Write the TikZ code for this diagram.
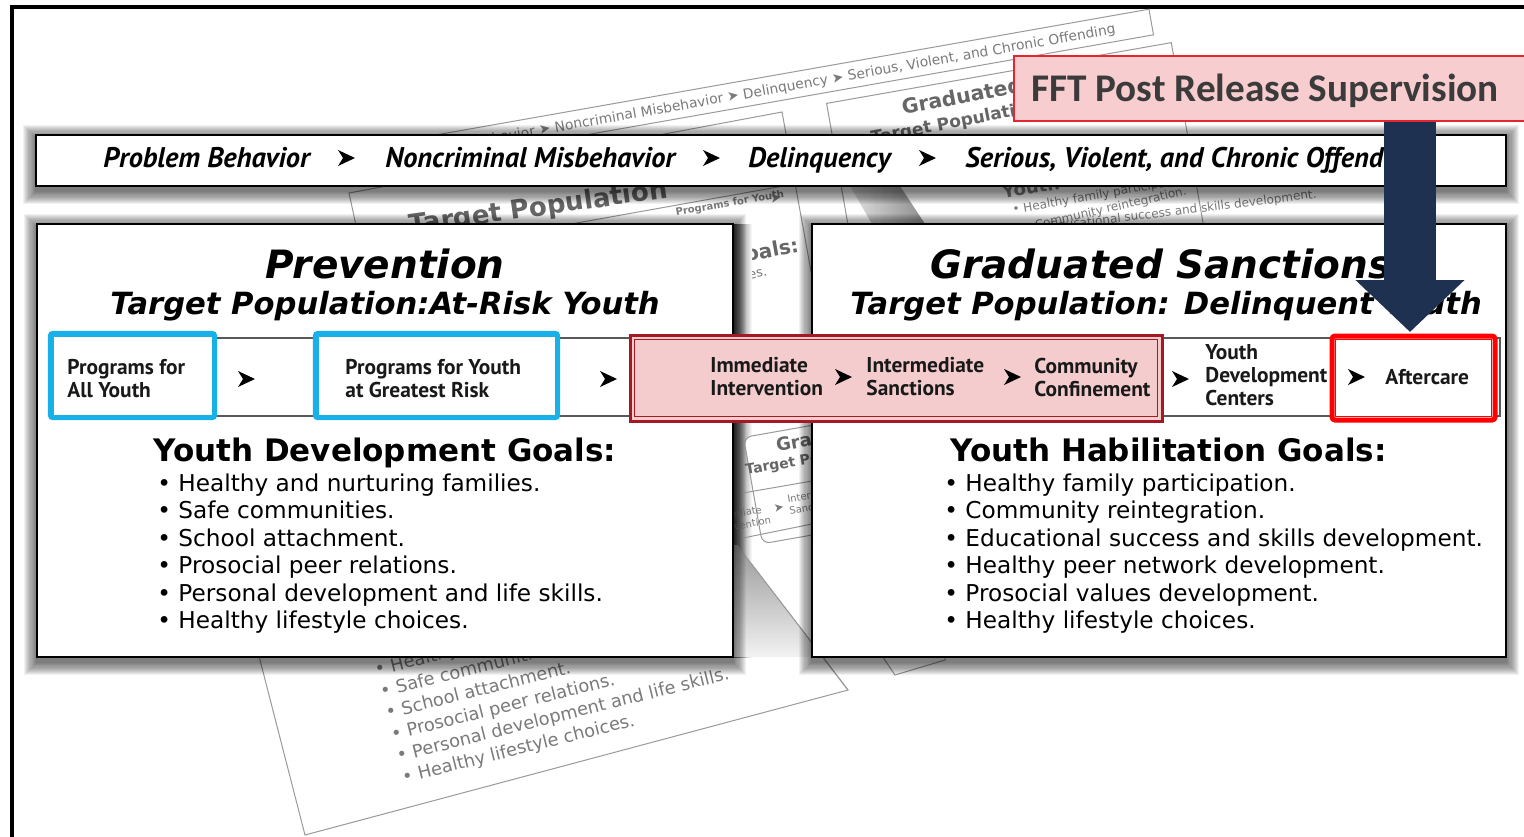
\documentclass[tikz,border=0pt]{standalone}
\usepackage{fontspec}
\setmainfont{DejaVu Sans}
\newfontfamily\ptsans{PT Sans}
\newfontfamily\carlito{Carlito}
\usetikzlibrary{arrows.meta}
\definecolor{navy}{HTML}{1F3150}
\definecolor{cyanb}{HTML}{18B0E8}
\definecolor{dred}{HTML}{A31A22}
\definecolor{pinkf}{HTML}{F4CCCD}
\definecolor{fftfill}{HTML}{F8CDCF}
\definecolor{fftline}{HTML}{E52530}
\definecolor{brightred}{HTML}{FF0000}
\definecolor{ghostt}{HTML}{7A7A7A}
\definecolor{ghostl}{HTML}{9A9A9A}
\definecolor{ffttext}{HTML}{3B3B3B}
\pgfdeclareradialshading{bgshade}{\pgfpoint{0bp}{0bp}}{color(0bp)=(white); color(34bp)=(white); color(62bp)=(black!11); color(80bp)=(black!11)}
\def\pxu{0.5pt}
\newcommand\gch{{\upshape\mdseries ➤}}
\newcommand\softshadow[4]{%
  \foreach \k in {1,...,12}{%
    \fill[black,opacity=0.055] ({#1-1.1*\k},{#2-1.1*\k+3}) rectangle ({#3+1.1*\k},{#4+1.1*\k+5});}}
\tikzset{
  chev/.pic={\fill (-8,-8) -- (9,0) -- (-8,8) -- (-3,0) -- cycle;},
  panel/.style={draw=black, line width=1.4pt, fill=white, inner sep=0},
  ghostsheet/.style={draw=ghostl, line width=0.5pt, fill=white, inner sep=0},
  ghostline/.style={draw=ghostl, line width=0.5pt},
  gtxt/.style={text=ghostt, inner sep=0},
  gbold/.style={text=black!60, inner sep=0},
  bartext/.style={font=\ptsans\bfseries\itshape\fontsize{14.2pt}{16pt}\selectfont, anchor=base west, inner sep=0},
  boxtext/.style={font=\ptsans\bfseries\fontsize{10.7pt}{11.5pt}\selectfont, align=left, anchor=west, inner sep=0, text=black!90},
  ptitle/.style={font=\bfseries\itshape\fontsize{19.5pt}{22pt}\selectfont, inner sep=0},
  psub/.style={font=\bfseries\itshape\fontsize{15.3pt}{18pt}\selectfont, inner sep=0},
  goalhead/.style={font=\bfseries\fontsize{15.5pt}{18pt}\selectfont, anchor=base west, inner sep=0},
  goalitem/.style={font=\fontsize{11.6pt}{13pt}\selectfont, anchor=base west, inner sep=0},
  bluebox/.style={draw=cyanb, line width=2.2pt, rounded corners=3*\pxu, fill=white, inner sep=0},
  darkbox/.style={draw=dred, line width=1.5pt, fill=pinkf, inner sep=0},
  aftbox/.style={draw=brightred, line width=2.5pt, rounded corners=3*\pxu, fill=white, inner sep=0},
  bandline/.style={draw=black!65, line width=0.8pt},
  bigarrow/.style={draw=navy, line width=26pt, -{Triangle[width=53pt,length=26pt]}}
}
\begin{document}
\begin{tikzpicture}[x=0.5pt,y=-0.5pt]
\useasboundingbox (0,0) rectangle (1524,836);
\clip (0,0) rectangle (1524,836);
% background
\fill[white] (0,0) rectangle (1524,836);
\shade[shading=bgshade] (-120,-60) rectangle (1640,930);
\fill[white] (0,0) rectangle (12,836);
\fill[white] (0,0) rectangle (1524,7);
\draw[line width=2pt] (12,840) -- (12,7) -- (1530,7);

% ---- ghost: lower sheet
\draw[ghostsheet] (224,520) -- (305,835) -- (848,690) -- (700,497) -- cycle;
\foreach \t [count=\i from 0] in {Healthy and nurturing families., Safe communities., School attachment., Prosocial peer relations., Personal development and life skills., Healthy lifestyle choices.}
  \node[gtxt, font=\fontsize{8.9pt}{10pt}\selectfont, rotate=14, anchor=base west] (lb\i) at ({376+5.5*\i},{676+21.5*\i}) {• \t};

% ---- ghost: left panel copy
\draw[ghostsheet] (349,193) -- (782,112) -- (840,430) -- (420,520) -- cycle;
\node[gbold, font=\bfseries\fontsize{13pt}{15pt}\selectfont, rotate=8, anchor=base west] (g3t) at (410,234) {Target Population};
\node[gtxt, font=\bfseries\fontsize{5pt}{6pt}\selectfont, rotate=10, anchor=base west] (g3p) at (676,216) {Programs for Youth};
\draw[ghostline] (560,226) -- (800,183);
\node[gtxt, font=\fontsize{7pt}{8pt}\selectfont, rotate=10] (g3c) at (776,198) {➤};
\node[gbold, font=\bfseries\fontsize{10pt}{12pt}\selectfont, rotate=10, anchor=base east] (g3g) at (800,252) {Youth Development Goals:};
\node[gtxt, font=\fontsize{6.5pt}{8pt}\selectfont, rotate=10, anchor=base east] (g3h) at (768,276) {• Healthy lifestyle choices.};

% ---- ghost: graduated panel copy
\node[ghostsheet, rotate=10, anchor=north west, minimum width=350*\pxu, minimum height=220*\pxu] (g2) at (826,103) {};
\shade[left color=black!12, right color=black!45] (850,186) -- (900,186) -- (925,224) -- (872,224) -- cycle;
\node[gbold, font=\bfseries\fontsize{10.2pt}{12pt}\selectfont, rotate=11, anchor=base west] (g2a) at (903,115) {Graduated Sanctions};
\node[gbold, font=\bfseries\fontsize{8.5pt}{10pt}\selectfont, rotate=11, anchor=base west] (g2b) at (872,144) {Target Population: Delinquent Youth};
\node[gtxt, font=\bfseries\fontsize{9pt}{10pt}\selectfont, rotate=10, anchor=base west] (g2c) at (1003,199) {Youth Habilitation Goals:};
\node[gtxt, font=\fontsize{6pt}{7pt}\selectfont, rotate=10, anchor=base west] (g2d) at (1013,214) {• Healthy family participation.};
\node[gtxt, font=\fontsize{6pt}{7pt}\selectfont, rotate=13, anchor=base west] (g2e) at (1025,232) {• Community reintegration.};
\node[gtxt, font=\fontsize{6pt}{7pt}\selectfont, rotate=7, anchor=base west] (g2f) at (1040,232) {• Educational success and skills development.};

% ---- ghost: top strip
\node[ghostsheet, rotate=10, minimum width=760*\pxu, minimum height=26*\pxu] (g1) at (777,88) {};
\node[gtxt, font=\fontsize{6.9pt}{8pt}\selectfont, rotate=10, anchor=base west] (g1t) at (415,157) {Problem Behavior \gch{} Noncriminal Misbehavior \gch{} Delinquency \gch{} Serious, Violent, and Chronic Offending};

% ---- ghost pieces in the gap
\shade[left color=black!75, right color=black!0] (733,224) rectangle (752,657);
\node[ghostsheet, rotate=10, anchor=north west, minimum width=160*\pxu, minimum height=108*\pxu, rounded corners=8*\pxu] (g4) at (743,437) {};
\node[gbold, font=\bfseries\fontsize{9pt}{10pt}\selectfont, rotate=10, anchor=base west] (g4a) at (777,452) {Graduated Sanctions};
\node[gbold, font=\bfseries\fontsize{7pt}{8pt}\selectfont, rotate=10, anchor=base west] (g4b) at (746,475) {Target Population: Delinquent Youth};
\draw[ghostline] (743,493) -- (812,481);
\node[gtxt, font=\fontsize{5pt}{6pt}\selectfont, rotate=10, anchor=east, align=left] (g4c) at (770,514) {Immediate\\Intervention};
\node[gtxt, font=\fontsize{6pt}{6pt}\selectfont, rotate=10] (g4d) at (779,508) {➤};
\node[gtxt, font=\fontsize{5pt}{6pt}\selectfont, rotate=10, anchor=west, align=left] (g4e) at (788,505) {Intermediate\\Sanctions};
\draw[ghostline] (743,538) -- (812,524);
\shade[top color=black!40, bottom color=black!5] (733,545) -- (737,545) -- (812,643) -- (812,657) -- (733,657) -- cycle;
\draw[ghostline] (737,545) -- (848,690);
\draw[ghostsheet] (878,650) -- (895,675) -- (945,660) -- (945,650) -- cycle;

% ---- shadows
\softshadow{36}{135}{1506}{186}
\softshadow{37}{224}{733}{657}
\softshadow{812}{224}{1506}{657}

% ---- top bar
\node[panel, minimum width=1470*\pxu, minimum height=51*\pxu] (bar) at (771,160.5) {};
\node[bartext] (pb) at (103,167) {Problem Behavior};
\pic at (346,158) {chev};
\node[bartext] (nm) at (385,167) {Noncriminal Misbehavior};
\pic at (711,158) {chev};
\node[bartext] (dl) at (748,167) {Delinquency};
\pic at (927,158) {chev};
\node[bartext] (sv) at (965,167) {Serious, Violent, and Chronic Offend};

% ---- panels
\node[panel, minimum width=696*\pxu, minimum height=433*\pxu] (prev) at (385,440.5) {};
\node[panel, minimum width=694*\pxu, minimum height=433*\pxu] (grad) at (1159,440.5) {};

\node[ptitle, anchor=base] (pt) at (385,278) {Prevention};
\node[psub, anchor=base] (ps) at (385,314) {Target Population:At-Risk Youth};
\node[ptitle, anchor=base west] (gt) at (930,278) {Graduated Sanctions};
\node[psub, anchor=base west] (gs) at (850,314) {Target Population: Delinquent Youth};

% row bands
\draw[bandline] (50,338) rectangle (733,416);
\draw[bandline] (812,338) rectangle (1500,416);

% blue boxes
\node[bluebox, minimum width=165*\pxu, minimum height=85*\pxu] (b1) at (132.5,375.5) {};
\draw[cyanb, line width=0.7pt] ([shift={(5,5)}]b1.north west) rectangle ([shift={(-5,-5)}]b1.south east);
\node[boxtext] (b1t) at (67,379) {Programs for\\All Youth};
\pic at (246,379) {chev};
\node[bluebox, minimum width=243*\pxu, minimum height=85*\pxu] (b2) at (436.5,375.5) {};
\draw[cyanb, line width=0.7pt] ([shift={(5,5)}]b2.north west) rectangle ([shift={(-5,-5)}]b2.south east);
\node[boxtext] (b2t) at (345,379) {Programs for Youth\\at Greatest Risk};
\pic at (608,379) {chev};

% dark red box
\node[darkbox, minimum width=532*\pxu, minimum height=86*\pxu] (rb) at (896,378) {};
\draw[dred, line width=0.8pt] ([shift={(6,6)}]rb.north west) rectangle ([shift={(-6,-6)}]rb.south east);
\node[boxtext] (r1) at (710,377) {Immediate\\Intervention};
\pic at (843,377) {chev};
\node[boxtext] (r2) at (866,377) {Intermediate\\Sanctions};
\pic at (1012,377) {chev};
\node[boxtext] (r3) at (1034,377) {Community\\Confinement};
\pic at (1180,379) {chev};
\node[boxtext] (ydc) at (1205,375) {Youth\\Development\\Centers};

% aftercare
\node[aftbox, minimum width=163*\pxu, minimum height=84*\pxu] (aft) at (1413.5,378) {};
\draw[brightred, line width=0.7pt] ([shift={(6,6)}]aft.north west) rectangle ([shift={(-6,-6)}]aft.south east);
\pic at (1356,377) {chev};
\node[boxtext] (aftt) at (1385,377) {Aftercare};

% goals
\node[goalhead] (lgh) at (153,461) {Youth Development Goals:};
\foreach \t [count=\i from 0] in {Healthy and nurturing families., Safe communities., School attachment., Prosocial peer relations., Personal development and life skills., Healthy lifestyle choices.}
  \node[goalitem] (lg\i) at (157,{491+27.5*\i}) {• \t};
\node[goalhead] (rgh) at (950,461) {Youth Habilitation Goals:};
\foreach \t [count=\i from 0] in {Healthy family participation., Community reintegration., Educational success and skills development., Healthy peer network development., Prosocial values development., Healthy lifestyle choices.}
  \node[goalitem] (rg\i) at (944,{491+27.5*\i}) {• \t};

% FFT box and arrow
\node[draw=fftline, line width=1pt, fill=fftfill, minimum width=520*\pxu, minimum height=65*\pxu, inner sep=0] (fft) at (1274,88.5) {};
\node[font=\carlito\bfseries\fontsize{19.6pt}{22pt}\selectfont, text=ffttext, anchor=base west, inner sep=0] (fftt) at (1031,101) {FFT Post Release Supervision};
\coordinate (tip) at (1410,332);
\draw[bigarrow] (fft.south -| tip) -- (tip);
\end{tikzpicture}
\end{document}
